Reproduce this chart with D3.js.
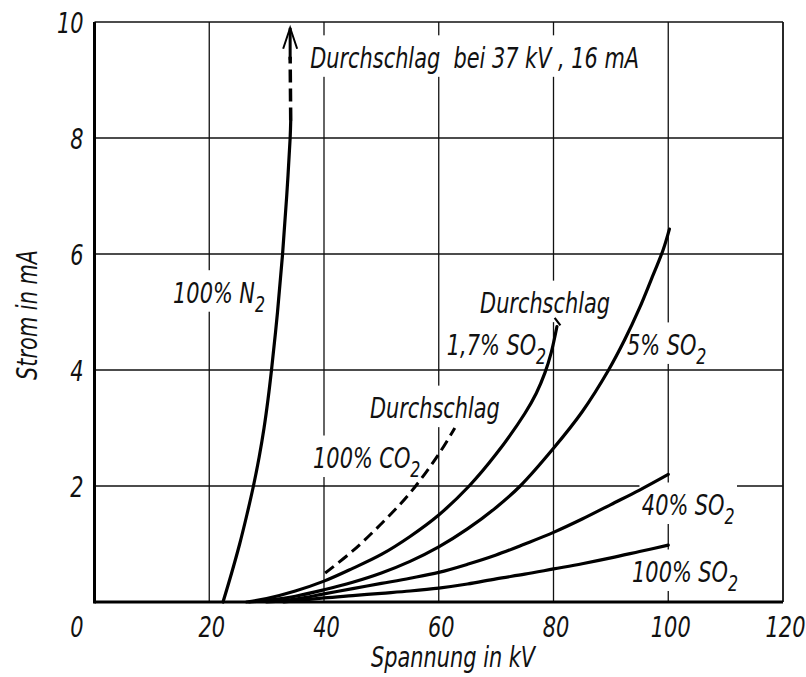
<!DOCTYPE html>
<html><head><meta charset="utf-8">
<script src="https://cdn.jsdelivr.net/npm/d3@7"></script>
<style>
body{margin:0;background:#fff}
svg text{font-family:"DejaVu Sans Condensed","DejaVu Sans",sans-serif;font-style:italic;fill:#111}
</style>
</head><body>
<svg id="c" width="806" height="677"></svg>
<script>
// ---- data ----
const xTicks = [20, 40, 60, 80, 100, 120];
const yTicks = [2, 4, 6, 8, 10];
const xTitle = "Spannung in kV";
const yTitle = "Strom in mA";

// Strom (mA) vs. Spannung (kV)
const n2 = [[22.4,0],[23.9,0.5],[25.3,1],[26.55,1.5],[27.7,2],[28.7,2.5],[29.55,3],[30.25,3.5],[30.85,4],[31.9,5],[32.78,6],[33.5,7],[34.1,8],[34.2,8.3]];
const n2Dashed = [[34.2,8.3],[34.1,9.4]];
const n2Arrow = [[34.1,9.35],[34.1,9.9]];
const co2 = [[40.2,0.5],[45,0.88],[50,1.35],[55,1.88],[60,2.55],[62.8,3.0]];
const so2_17 = [[26.5,0],[30,0.06],[35,0.19],[40,0.36],[45,0.58],[50,0.82],[55,1.13],[60,1.5],[65.3,2.0],[70,2.55],[75,3.25],[77,3.6],[78.5,3.95],[79.6,4.3],[80.6,4.75]];
const so2_17Mark = [[80.2,4.9],[81.2,4.77]];
const so2_5 = [[27,0],[30,0.03],[35,0.1],[40,0.21],[45,0.34],[50,0.5],[55,0.7],[60,0.95],[65,1.26],[70,1.63],[74.2,2.0],[80,2.65],[85,3.28],[89.6,4.0],[92.4,4.52],[95,5.07],[97,5.55],[99.1,6.07],[100.2,6.43]];
const so2_40 = [[30,0],[35,0.05],[40,0.14],[45,0.23],[50,0.32],[55,0.41],[60,0.51],[65,0.65],[70,0.81],[75,1.0],[80,1.2],[85,1.43],[90,1.68],[95,1.93],[100,2.2]];
const so2_100 = [[33,0],[40,0.07],[45,0.11],[50,0.15],[55,0.19],[60,0.24],[65,0.31],[70,0.4],[75,0.48],[80,0.57],[85,0.66],[90,0.76],[95,0.87],[100,0.98]];

const seriesSolid = [n2, so2_17, so2_5, so2_40, so2_100];

// annotations (data units: kV, mA)
const labelTexts = ["Durchschlag  bei 37 kV , 16 mA", "100% N", "Durchschlag", "1,7% SO", "5% SO", "Durchschlag", "100% CO", "40% SO", "100% SO"];
const labelSubs  = ["", "2", "", "2", "2", "", "2", "2", "2"];
const labelX     = [37.6, 13.7, 67.2, 61.4, 92.8, 48.0, 38.1, 95.4, 93.7];
const labelY     = [9.21, 5.16, 4.98, 4.26, 4.26, 3.17, 2.31, 1.5, 0.345];

// ---- chart ----
const svg = d3.select("#c");
const x = d3.scaleLinear().domain([0,120]).range([94.5,783]);
const y = d3.scaleLinear().domain([0,10]).range([602,22]);
const FS = 29, SX = 0.8, SXD = 0.8;

svg.append("rect").attr("width",806).attr("height",677).attr("fill","#fff");

// grid
const grid = svg.append("g").attr("stroke","#111").attr("stroke-width",1.3);
grid.selectAll("line.v").data(xTicks.filter(d=>d<120)).join("line")
  .attr("x1",d=>x(d)).attr("x2",d=>x(d)).attr("y1",y(0)).attr("y2",y(10));
grid.selectAll("line.h").data(yTicks.filter(d=>d<10)).join("line")
  .attr("x1",x(0)).attr("x2",x(120)).attr("y1",d=>y(d)).attr("y2",d=>y(d));
svg.append("line").attr("x1",x(0)).attr("x2",x(120)).attr("y1",y(10)).attr("y2",y(10)).attr("stroke","#111").attr("stroke-width",1.6);
svg.append("line").attr("x1",x(120)).attr("x2",x(120)).attr("y1",y(0)).attr("y2",y(10)).attr("stroke","#111").attr("stroke-width",1.8);

// layers
const halo = svg.append("g");
const curves = svg.append("g");
const labelLayer = svg.append("g");
const labelData = labelTexts.map((t,i)=>({t, s:labelSubs[i], x:labelX[i], y:labelY[i]}));
const lgG = labelLayer.selectAll("g").data(labelData).join("g")
  .attr("transform",d=>`translate(${x(d.x)},${y(d.y)}) scale(${SX},1)`);
const lg = lgG.append("text").attr("font-size",FS).attr("xml:space","preserve").style("white-space","pre");
lg.append("tspan").text(d=>d.t);
lg.filter(d=>d.s).append("tspan").attr("font-size",22).attr("dy",9).text(d=>d.s);
lg.each(function(d){
  const b = this.getBBox();
  const top = b.y - 6, bottom = 9;
  halo.append("g").attr("transform",`translate(${x(d.x)},${y(d.y)}) scale(${SX},1)`)
    .append("rect").attr("x",b.x-3).attr("y",top).attr("width",b.width+6).attr("height",bottom-top).attr("fill","#fff");
});

// curves
const line = d3.line().x(d=>x(d[0])).y(d=>y(d[1])).curve(d3.curveCatmullRom.alpha(0.5));
curves.selectAll("path.s").data(seriesSolid).join("path")
  .attr("d",line).attr("fill","none").attr("stroke","#000").attr("stroke-width",3.2).attr("stroke-linecap","round");
curves.append("path").attr("d",line(co2)).attr("fill","none").attr("stroke","#000").attr("stroke-width",3).attr("stroke-dasharray","11,6");
const straight = d3.line().x(d=>x(d[0])).y(d=>y(d[1]));
curves.append("path").attr("d",straight(so2_17Mark)).attr("fill","none").attr("stroke","#000").attr("stroke-width",2.2);
curves.append("path").attr("d",straight(n2Dashed)).attr("fill","none").attr("stroke","#000").attr("stroke-width",3.5).attr("stroke-dasharray","13,6");
curves.append("path").attr("d",straight(n2Arrow)).attr("fill","none").attr("stroke","#000").attr("stroke-width",3);
const tip = n2Arrow[1];
curves.append("path")
  .attr("d",`M${x(tip[0])-7},${y(tip[1])+21} L${x(tip[0])},${y(tip[1])} L${x(tip[0])+7},${y(tip[1])+21}`)
  .attr("fill","none").attr("stroke","#000").attr("stroke-width",2);

// axes lines
svg.append("line").attr("x1",x(0)).attr("x2",x(0)).attr("y1",y(0)+1.5).attr("y2",y(10)).attr("stroke","#000").attr("stroke-width",3);
svg.append("line").attr("x1",x(0)).attr("x2",x(120)).attr("y1",y(0)).attr("y2",y(0)).attr("stroke","#000").attr("stroke-width",3);

// tick labels
const ax = svg.append("g").attr("transform",`translate(0,${y(0)})`)
  .call(d3.axisBottom(x).tickValues(xTicks).tickSize(0).tickFormat(d3.format("d")));
ax.select(".domain").remove();
ax.attr("font-size",null).attr("font-family",null);
ax.selectAll("text").attr("x",2/SXD).attr("y",35).attr("dy",0).attr("font-size",29)
  .attr("transform",`scale(${SXD},1)`);

const ay = svg.append("g").attr("transform",`translate(${x(0)},0)`)
  .call(d3.axisLeft(y).tickValues(yTicks).tickSize(0).tickFormat(d3.format("d")));
ay.select(".domain").remove();
ay.attr("font-size",null).attr("font-family",null);
ay.selectAll("text").attr("x",-11/SXD).attr("dy",10).attr("font-size",29)
  .attr("transform",`scale(${SXD},1)`);

svg.append("text").attr("transform",`translate(${x(0)-11},${y(0)+35}) scale(${SXD},1)`)
  .attr("text-anchor","end").attr("font-size",29).text("0");

// titles
svg.append("text").attr("transform",`translate(${x(62.5)},667) scale(${SX},1)`).attr("text-anchor","middle").attr("font-size",FS).text(xTitle);
svg.append("text").attr("transform",`translate(37,${y(4.95)}) rotate(-90) scale(${SX},1)`).attr("text-anchor","middle").attr("font-size",FS).text(yTitle);
</script>
</body></html>
